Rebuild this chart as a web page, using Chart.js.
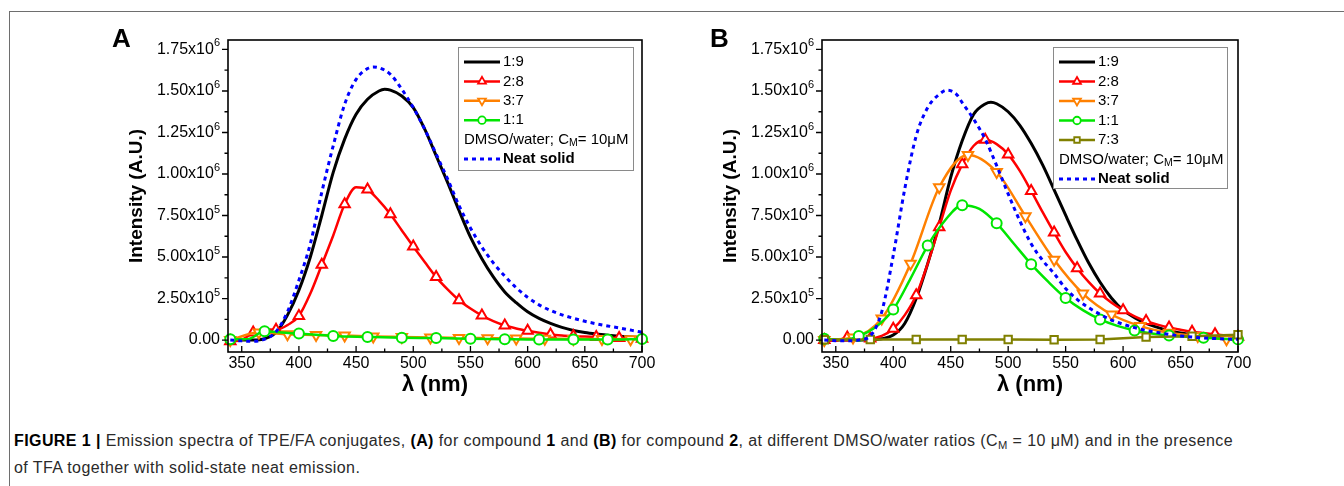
<!DOCTYPE html>
<html>
<head>
<meta charset="utf-8">
<script src="https://cdn.jsdelivr.net/npm/chart.js@4.4.1/dist/chart.umd.min.js"></script>
<style>
html,body{margin:0;padding:0;background:#fff;}
body{width:1344px;height:486px;position:relative;overflow:hidden;font-family:"Liberation Sans",Arial,sans-serif;}
#frame{position:absolute;left:9px;top:11px;width:1340px;height:480px;border-top:1px solid #6e6e6e;border-left:1px solid #6e6e6e;}
.box{position:absolute;top:0;width:672px;height:400px;}
#boxA{left:0;}
#boxB{left:672px;}
.plabel{position:absolute;font-weight:bold;font-size:26px;line-height:26px;color:#000;}
#caption{position:absolute;left:14px;top:427px;font-family:"Liberation Sans Narrow","Arial Narrow","Liberation Sans",Arial,sans-serif;font-size:16px;line-height:27px;color:#2a2a2a;white-space:nowrap;}
#caption b{color:#000;}
#caption sub{font-size:70%;line-height:0;vertical-align:-0.3em;}
</style>
</head>
<body>
<div id="frame"></div>
<div class="box" id="boxA"><canvas id="chartA" width="672" height="400"></canvas></div>
<div class="box" id="boxB"><canvas id="chartB" width="672" height="400"></canvas></div>
<div class="plabel" style="left:112px;top:25px;">A</div>
<div class="plabel" style="left:710px;top:25px;">B</div>
<div id="caption"><span id="cap1"><b>FIGURE 1</b> <b>|</b> Emission spectra of TPE/FA conjugates, <b>(A)</b> for compound <b>1</b> and <b>(B)</b> for compound <b>2</b>, at different DMSO/water ratios (C<sub>M</sub> = 10 μM) and in the presence</span><br><span id="cap2">of TFA together with solid-state neat emission.</span></div>
<script>
// ---------------- DATA ----------------
// axis ticks
const xTicks = [350, 400, 450, 500, 550, 600, 650, 700];
const xMinorTicks = [375, 425, 475, 525, 575, 625, 675];
const yTicks = [0, 250000, 500000, 750000, 1000000, 1250000, 1500000, 1750000];
const yMinorTicks = [125000, 375000, 625000, 875000, 1125000, 1375000, 1625000];
const legendLabels = ["1:9", "2:8", "3:7", "1:1", "7:3", "Neat solid"];

// Panel A (compound 1)
const wlA_19 = [340,350,360,370,380,390,400,410,420,430,440,450,460,470,475,480,490,500,510,520,530,540,550,560,570,580,590,600,610,620,630,640,650,660,670,680,690,700];
const intA_19 = [0,0,0,0.008e6,0.045e6,0.15e6,0.30e6,0.50e6,0.75e6,1.01e6,1.21e6,1.36e6,1.45e6,1.50e6,1.51e6,1.505e6,1.47e6,1.40e6,1.27e6,1.11e6,0.95e6,0.78e6,0.62e6,0.49e6,0.38e6,0.29e6,0.225e6,0.17e6,0.13e6,0.10e6,0.076e6,0.058e6,0.045e6,0.036e6,0.029e6,0.023e6,0.018e6,0.014e6];

const wlA_28 = [340,350,360,370,380,390,400,410,420,430,440,450,460,470,480,490,500,510,520,530,540,550,560,570,580,590,600,610,620,630,640,650,660,670,680,690,700];
const intA_28 = [-0.008e6,0,0.045e6,0.065e6,0.062e6,0.09e6,0.145e6,0.28e6,0.453e6,0.63e6,0.818e6,0.92e6,0.906e6,0.84e6,0.758e6,0.66e6,0.563e6,0.47e6,0.379e6,0.305e6,0.24e6,0.19e6,0.148e6,0.114e6,0.088e6,0.07e6,0.056e6,0.044e6,0.034e6,0.028e6,0.024e6,0.021e6,0.018e6,0.015e6,0.012e6,0.01e6,0.008e6];

const wlA_37 = [340,365,390,415,440,465,490,515,540,565,590,615,640,665,690,700];
const intA_37 = [0,0.045e6,0.035e6,0.03e6,0.027e6,0.022e6,0.019e6,0.016e6,0.013e6,0.011e6,0.009e6,0.008e6,0.007e6,0.006e6,0.005e6,0.005e6];

const wlA_11 = [340,355,370,385,400,430,460,490,520,550,580,610,640,670,700];
const intA_11 = [0.005e6,0.005e6,0.053e6,0.045e6,0.039e6,0.025e6,0.019e6,0.014e6,0.012e6,0.008e6,0.005e6,0.003e6,0.003e6,0.003e6,0.006e6];

const wlA_neat = [340,350,360,370,380,390,400,410,420,430,440,450,460,465,470,480,490,500,510,520,530,540,550,560,570,580,590,600,610,620,630,640,650,660,670,680,690,700];
const intA_neat = [0,-0.005e6,-0.008e6,0.005e6,0.05e6,0.17e6,0.36e6,0.58e6,0.89e6,1.17e6,1.42e6,1.57e6,1.635e6,1.645e6,1.64e6,1.60e6,1.51e6,1.40e6,1.27e6,1.12e6,0.97e6,0.81e6,0.675e6,0.56e6,0.465e6,0.385e6,0.315e6,0.257e6,0.212e6,0.178e6,0.152e6,0.131e6,0.113e6,0.098e6,0.085e6,0.073e6,0.06e6,0.047e6];

// Panel B (compound 2)
const wlB_19 = [340,350,360,370,380,390,400,410,420,430,440,450,460,470,480,485,490,500,510,520,530,540,550,560,570,580,590,600,610,620,630,640,650,660,670,680,690,700];
const intB_19 = [0,0,0,0,0.002e6,0.008e6,0.03e6,0.10e6,0.25e6,0.46e6,0.70e6,0.98e6,1.20e6,1.36e6,1.422e6,1.432e6,1.423e6,1.375e6,1.295e6,1.185e6,1.055e6,0.905e6,0.752e6,0.603e6,0.465e6,0.348e6,0.252e6,0.18e6,0.135e6,0.10e6,0.076e6,0.056e6,0.042e6,0.032e6,0.024e6,0.018e6,0.013e6,0.01e6];

const wlB_28 = [340,350,360,370,380,390,400,410,420,430,440,450,460,470,480,490,500,510,520,530,540,550,560,570,580,590,600,610,620,630,640,650,660,670,680,690,700];
const intB_28 = [0,-0.005e6,0.015e6,0.01e6,0.01e6,0.025e6,0.068e6,0.15e6,0.27e6,0.46e6,0.68e6,0.90e6,1.058e6,1.17e6,1.206e6,1.18e6,1.118e6,1.02e6,0.898e6,0.77e6,0.647e6,0.53e6,0.433e6,0.35e6,0.28e6,0.225e6,0.18e6,0.143e6,0.114e6,0.093e6,0.075e6,0.062e6,0.05e6,0.042e6,0.035e6,0.027e6,0.02e6];

const wlB_37 = [340,365,390,415,440,465,490,515,540,565,590,615,640,665,690,700];
const intB_37 = [0,0.015e6,0.13e6,0.46e6,0.92e6,1.115e6,1.012e6,0.746e6,0.483e6,0.28e6,0.154e6,0.084e6,0.044e6,0.024e6,0.005e6,0.01e6];

const wlB_11 = [340,355,370,385,400,415,430,445,460,475,490,505,520,535,550,565,580,595,610,625,640,655,670,685,700];
const intB_11 = [0.008e6,0,0.024e6,0.08e6,0.184e6,0.37e6,0.569e6,0.72e6,0.812e6,0.79e6,0.703e6,0.58e6,0.457e6,0.35e6,0.253e6,0.18e6,0.124e6,0.085e6,0.058e6,0.04e6,0.028e6,0.02e6,0.014e6,0.008e6,0.004e6];

const wlB_73 = [340,380,420,460,500,540,580,620,660,700];
const intB_73 = [0.002e6,0.003e6,0.003e6,0.003e6,0.003e6,0.002e6,0.003e6,0.018e6,0.023e6,0.032e6];

const wlB_neat = [340,350,360,370,380,390,400,410,420,430,440,447,455,460,470,480,490,500,510,520,530,540,550,560,570,580,590,600,610,620,630,640,650,660,670,680,690,700];
const intB_neat = [0,-0.004e6,-0.005e6,0,0.025e6,0.17e6,0.51e6,0.91e6,1.23e6,1.40e6,1.48e6,1.505e6,1.48e6,1.43e6,1.33e6,1.21e6,1.05e6,0.88e6,0.72e6,0.58e6,0.48e6,0.40e6,0.31e6,0.245e6,0.195e6,0.155e6,0.12e6,0.095e6,0.075e6,0.058e6,0.045e6,0.034e6,0.025e6,0.018e6,0.013e6,0.009e6,0.006e6,0.004e6];

// ---------------- RENDER ----------------
const FONT = '"Liberation Sans", Arial, sans-serif';
const X_MIN = 338, X_MAX = 700, Y_MIN = -72000, Y_MAX = 1807000;

function fmtY(v){
  if (Math.abs(v) < 1e-9) return '0.00';
  const e = Math.floor(Math.log10(v) + 1e-9);
  const m = v / Math.pow(10, e);
  return m.toFixed(2) + 'x10^' + e;
}

const STY = {
  s19: {color:'#000000', width:3},
  s28: {color:'#ff0000', width:2.5, marker:'triangle', rot:0, r:6, step:20, start:340},
  s37: {color:'#ff8000', width:2.5, marker:'triangle', rot:180, r:6, step:25, start:340},
  s11: {color:'#00e600', width:2.5, marker:'circle', rot:0, r:5, step:30, start:340},
  s73: {color:'#808000', width:2.5, marker:'rect', rot:0, r:5.2, step:40, start:340, straight:true},
  neat:{color:'#0000ff', width:3, dash:[4,4]}
};

function drawMarker(ctx, style, rot, x, y, r){
  ctx.beginPath();
  if (style === 'circle') {
    ctx.arc(x, y, r, 0, Math.PI*2);
  } else if (style === 'triangle') {
    let a = rot * Math.PI/180;
    ctx.moveTo(x + Math.sin(a)*r, y - Math.cos(a)*r);
    a += 2*Math.PI/3; ctx.lineTo(x + Math.sin(a)*r, y - Math.cos(a)*r);
    a += 2*Math.PI/3; ctx.lineTo(x + Math.sin(a)*r, y - Math.cos(a)*r);
    ctx.closePath();
  } else if (style === 'rect') {
    const h = r * Math.SQRT1_2;
    ctx.rect(x - h, y - h, 2*h, 2*h);
  }
  ctx.fill(); ctx.stroke();
}

// frame, tick marks, and y tick labels with real superscripts (labels come from the scale's own ticks)
const framePlugin = {
  id: 'frameTicks',
  afterDatasetsDraw(chart){
    const ctx = chart.ctx, a = chart.chartArea;
    const xs = chart.scales.x, ys = chart.scales.y;
    ctx.save();
    ctx.strokeStyle = '#000'; ctx.lineWidth = 1.6;
    ctx.strokeRect(a.left, a.top, a.right - a.left, a.bottom - a.top);
    ctx.lineWidth = 1.3;
    ctx.beginPath();
    yTicks.forEach(v => { const p = ys.getPixelForValue(v); ctx.moveTo(a.left - 6, p); ctx.lineTo(a.left, p); });
    yMinorTicks.forEach(v => { const p = ys.getPixelForValue(v); ctx.moveTo(a.left - 3.5, p); ctx.lineTo(a.left, p); });
    xTicks.forEach(v => { const p = xs.getPixelForValue(v); ctx.moveTo(p, a.bottom); ctx.lineTo(p, a.bottom - 6); });
    xMinorTicks.forEach(v => { const p = xs.getPixelForValue(v); ctx.moveTo(p, a.bottom); ctx.lineTo(p, a.bottom - 3.5); });
    ctx.stroke();
    // y labels
    ctx.fillStyle = '#000';
    ctx.textBaseline = 'middle';
    ctx.textAlign = 'right';
    const xr = a.left - 8;
    ys.ticks.forEach(t => {
      const p = ys.getPixelForValue(t.value);
      const lbl = String(t.label);
      const parts = lbl.split('^');
      if (parts.length === 2) {
        ctx.font = '11px ' + FONT;
        const ew = ctx.measureText(parts[1]).width;
        ctx.fillText(parts[1], xr, p - 6);
        ctx.font = '16px ' + FONT;
        ctx.fillText(parts[0], xr - ew, p);
      } else {
        ctx.font = '16px ' + FONT;
        ctx.fillText(lbl, xr, p);
      }
    });
    ctx.restore();
  }
};

const legendPlugin = {
  id: 'legendBox',
  afterDraw(chart, args, o){
    const ctx = chart.ctx;
    ctx.save();
    ctx.fillStyle = '#fff';
    ctx.fillRect(o.left, o.top, o.width, o.height);
    ctx.strokeStyle = '#8a8a8a'; ctx.lineWidth = 1;
    ctx.strokeRect(o.left + 0.5, o.top + 0.5, o.width, o.height);
    const x0 = o.left + 6, x1 = o.left + 42, tx = o.left + 45;
    let y = o.firstRow;
    ctx.textBaseline = 'middle'; ctx.textAlign = 'left';
    o.rows.forEach(row => {
      if (row === 'note') {
        ctx.fillStyle = '#000';
        ctx.font = '15px ' + FONT;
        let x = o.left + 6;
        const t1 = 'DMSO/water; C';
        ctx.fillText(t1, x, y); x += ctx.measureText(t1).width;
        ctx.font = '10.5px ' + FONT;
        ctx.fillText('M', x, y + 4); x += ctx.measureText('M').width;
        ctx.font = '15px ' + FONT;
        ctx.fillText('= 10\u03bcM', x, y);
      } else {
        const ds = chart.data.datasets[row];
        const st = ds._sty;
        ctx.strokeStyle = st.color; ctx.lineWidth = st.width;
        ctx.setLineDash(st.dash || []);
        ctx.beginPath(); ctx.moveTo(x0, y); ctx.lineTo(x1, y); ctx.stroke();
        ctx.setLineDash([]);
        if (st.marker) {
          ctx.fillStyle = '#fff'; ctx.lineWidth = 1.8;
          drawMarker(ctx, st.marker, st.rot, (x0 + x1)/2, y, st.r * 0.75);
        }
        ctx.fillStyle = '#000';
        ctx.font = (st.dash ? 'bold ' : '') + '15px ' + FONT;
        ctx.fillText(ds.label, tx, y);
      }
      y += o.rowGap;
    });
    ctx.restore();
  }
};

function buildPanel(id, g, series, legendOpts){
  const n = series.length;
  const datasets = series.map((s, i) => {
    const st = s.sty;
    return {
      label: s.label,
      _sty: st,
      data: s.x.map((xv, k) => ({x: xv, y: s.y[k]})),
      borderColor: st.color,
      backgroundColor: st.color,
      borderWidth: st.width,
      borderDash: st.dash || [],
      pointStyle: st.marker || 'circle',
      pointRotation: st.rot || 0,
      pointRadius: st.marker ? (c => (c.raw && ((c.raw.x - st.start) % st.step === 0)) ? st.r : 0) : 0,
      pointBorderColor: st.color,
      pointBackgroundColor: '#ffffff',
      pointBorderWidth: 2,
      pointHoverRadius: 0,
      cubicInterpolationMode: st.straight ? 'default' : 'monotone',
      tension: st.straight ? 0 : 0.4,
      fill: false,
      clip: false,
      order: n - i
    };
  });
  const padL = g.yTitleX - 11.4;
  return new Chart(document.getElementById(id), {
    type: 'line',
    data: {datasets},
    options: {
      responsive: false,
      animation: false,
      devicePixelRatio: 1,
      events: [],
      layout: {padding: {top: g.top, right: 672 - g.right, bottom: 0, left: padL}},
      plugins: {legend: {display: false}, tooltip: {enabled: false}, legendBox: legendOpts},
      scales: {
        x: {
          type: 'linear', min: X_MIN, max: X_MAX,
          afterBuildTicks: s => { s.ticks = xTicks.map(v => ({value: v})); },
          afterFit: s => { s.height = 400 - g.bottom; },
          grid: {display: false, drawTicks: false},
          border: {display: false},
          ticks: {padding: 2, autoSkip: false, maxRotation: 0, color: '#000', font: {family: FONT, size: 16}, callback: v => String(v)},
          title: {display: true, text: '\u03bb (nm)', color: '#000', font: {family: FONT, size: 22, weight: 'bold'}, padding: {top: 0, bottom: 2}}
        },
        y: {
          type: 'linear', min: Y_MIN, max: Y_MAX,
          afterBuildTicks: s => { s.ticks = yTicks.map(v => ({value: v})); },
          afterFit: s => { s.width = g.left - padL; },
          grid: {display: false, drawTicks: false},
          border: {display: false},
          ticks: {padding: 8, autoSkip: false, color: 'rgba(0,0,0,0)', font: {family: FONT, size: 16}, callback: v => fmtY(v)},
          title: {display: true, text: 'Intensity (A.U.)', color: '#000', font: {family: FONT, size: 19, weight: 'bold'}, padding: {top: 0, bottom: 0}}
        }
      }
    },
    plugins: [framePlugin, legendPlugin]
  });
}

buildPanel('chartA', {left: 228, right: 642, top: 40, bottom: 352, yTitleX: 137}, [
  {label: legendLabels[0], x: wlA_19, y: intA_19, sty: STY.s19},
  {label: legendLabels[1], x: wlA_28, y: intA_28, sty: STY.s28},
  {label: legendLabels[2], x: wlA_37, y: intA_37, sty: STY.s37},
  {label: legendLabels[3], x: wlA_11, y: intA_11, sty: STY.s11},
  {label: legendLabels[5], x: wlA_neat, y: intA_neat, sty: STY.neat}
], {left: 458, top: 47, width: 175, height: 123, firstRow: 62, rowGap: 19.4, rows: [0, 1, 2, 3, 'note', 4]});

buildPanel('chartB', {left: 150, right: 566, top: 40, bottom: 352, yTitleX: 59}, [
  {label: legendLabels[0], x: wlB_19, y: intB_19, sty: STY.s19},
  {label: legendLabels[1], x: wlB_28, y: intB_28, sty: STY.s28},
  {label: legendLabels[2], x: wlB_37, y: intB_37, sty: STY.s37},
  {label: legendLabels[3], x: wlB_11, y: intB_11, sty: STY.s11},
  {label: legendLabels[4], x: wlB_73, y: intB_73, sty: STY.s73},
  {label: legendLabels[5], x: wlB_neat, y: intB_neat, sty: STY.neat}
], {left: 381, top: 47, width: 174, height: 141, firstRow: 62, rowGap: 19.5, rows: [0, 1, 2, 3, 4, 'note', 5]});

// fit caption first line to the reference width
(function(){
  const c1 = document.getElementById('cap1');
  const w = c1.getBoundingClientRect().width;
  const target = 1219;
  const nChars = c1.textContent.length;
  const ls = (target - w) / nChars;
  document.getElementById('caption').style.letterSpacing = ls.toFixed(3) + 'px';
})();
</script>
</body>
</html>
